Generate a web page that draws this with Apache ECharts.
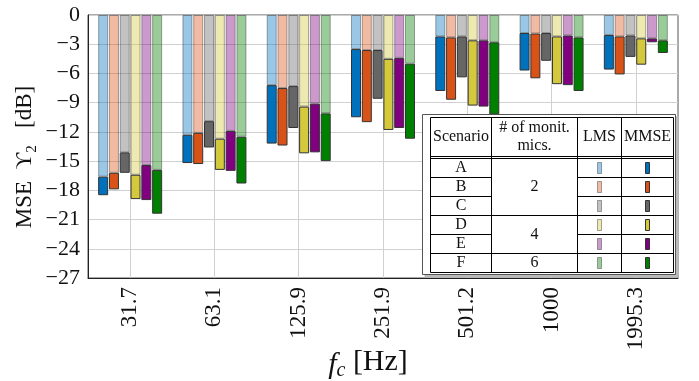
<!DOCTYPE html>
<html>
<head>
<meta charset="utf-8">
<script src="https://cdn.jsdelivr.net/npm/echarts@6/dist/echarts.min.js"></script>
<style>
  html, body { margin: 0; padding: 0; background: #fff; }
  #chart { width: 699px; height: 381px; }
</style>
</head>
<body>
<div id="chart"></div>
<script>
// centre frequencies (Hz)
const categories = ['31.7', '63.1', '125.9', '251.9', '501.2', '1000', '1995.3'];
const scenarios = ['A', 'B', 'C', 'D', 'E', 'F'];
const micCounts = ['2', '4', '6'];
const yTicks = [0, -3, -6, -9, -12, -15, -18, -21, -24, -27];

// MSE in dB, LMS and MMSE per scenario
const lmsA = [-16.6, -12.3, -7.2, -3.5, -2.2, -1.85, -2.05];
const mmseA = [-18.5, -15.2, -13.2, -10.5, -7.8, -5.7, -5.6];
const lmsB = [-16.2, -12.1, -7.5, -3.6, -2.3, -1.9, -2.2];
const mmseB = [-17.9, -15.3, -13.4, -11.0, -8.7, -6.5, -6.1];
const lmsC = [-14.1, -10.9, -7.3, -3.6, -2.2, -1.85, -2.1];
const mmseC = [-16.2, -13.6, -11.6, -8.6, -6.4, -4.7, -4.3];
const lmsD = [-16.4, -12.7, -9.4, -4.5, -2.6, -2.2, -2.4];
const mmseD = [-18.9, -15.9, -14.2, -11.8, -9.3, -7.1, -5.1];
const lmsE = [-15.4, -11.9, -9.1, -4.4, -2.6, -2.1, -2.4];
const mmseE = [-19.0, -16.0, -14.1, -11.6, -9.4, -7.2, -2.8];
const lmsF = [-15.9, -12.5, -10.1, -5.0, -2.8, -2.3, -2.6];
const mmseF = [-20.4, -17.3, -15.0, -12.7, -10.2, -7.8, -3.9];

const lmsAll = [lmsA, lmsB, lmsC, lmsD, lmsE, lmsF];
const mmseAll = [mmseA, mmseB, mmseC, mmseD, mmseE, mmseF];
const colors = ['#0072bd', '#d95319', '#666666', '#d4c83c', '#800080', '#008000'];

const FONT = '"Liberation Serif", "DejaVu Serif", serif';
const chart = echarts.init(document.getElementById('chart'));

const series = [];
scenarios.forEach((s, i) => {
  // light part: 0 -> LMS
  series.push({
    name: s + ' LMS', type: 'bar', stack: s,
    barWidth: 10, barGap: '8%',
    data: lmsAll[i],
    itemStyle: { color: colors[i], opacity: 0.4, borderColor: '#222', borderWidth: 1 },
  });
  // dark part: LMS -> MMSE
  series.push({
    name: s + ' MMSE', type: 'bar', stack: s,
    barWidth: 10, barGap: '8%',
    data: mmseAll[i].map((v, k) => v - lmsAll[i][k]),
    itemStyle: { color: colors[i], borderColor: '#333', borderWidth: 1 },
  });
});

// legend table (drawn by hand, like the LaTeX table in the original)
const L = 430.5, R = 673.5, T = 117.5;
const colX = [L, 491.5, 577.5, 621.5, R];
const rowY = [158.5, 177.5, 196.5, 215.5, 234.5, 253.5, 272.5];
const g = [];
const line = (x1, y1, x2, y2, w) => g.push({
  type: 'line', z: 101, silent: true,
  shape: { x1, y1, x2, y2 }, style: { stroke: '#000', lineWidth: w || 1 },
});
const text = (t, x, y, size) => g.push({
  type: 'text', z: 102, silent: true,
  style: { text: t, x, y, align: 'center', verticalAlign: 'middle', font: (size || 15) + 'px ' + FONT, fill: '#111' },
});
// frame + shadow
g.push({ type: 'rect', z: 99, silent: true, shape: { x: 424.5, y: 116.5, width: 254, height: 161 }, style: { fill: '#bbb' } });
g.push({ type: 'rect', z: 100, silent: true, shape: { x: 422.5, y: 114.5, width: 253, height: 160 }, style: { fill: '#fff', stroke: '#555', lineWidth: 1 } });
// outer table lines
line(L, T, R, T);
line(L, 156.5, R, 156.5);
line(L, 158.5, R, 158.5);
line(L, rowY[6], R, rowY[6]);
colX.forEach(x => line(x, T, x, rowY[6]));
// row lines (column 2 merged cells)
rowY.slice(1, 6).forEach((y, k) => {
  line(colX[0], y, colX[1], y);
  line(colX[2], y, colX[4], y);
  if (k === 2 || k === 4) line(colX[1], y, colX[2], y);
});
text('Scenario', (colX[0] + colX[1]) / 2, 137, 16);
text('# of monit.', (colX[1] + colX[2]) / 2, 128, 16);
text('mics.', (colX[1] + colX[2]) / 2, 146, 16);
text('LMS', (colX[2] + colX[3]) / 2, 137, 16);
text('MMSE', (colX[3] + colX[4]) / 2, 137, 16);
scenarios.forEach((s, i) => {
  const yc = (rowY[i] + rowY[i + 1]) / 2;
  text(s, (colX[0] + colX[1]) / 2, yc, 16);
  g.push({ type: 'rect', z: 102, silent: true, shape: { x: (colX[2] + colX[3]) / 2 - 2, y: yc - 5.5, width: 4, height: 11 },
    style: { fill: colors[i], opacity: 0.4, stroke: '#222', lineWidth: 1 } });
  g.push({ type: 'rect', z: 102, silent: true, shape: { x: (colX[3] + colX[4]) / 2 - 2, y: yc - 5.5, width: 4, height: 11 },
    style: { fill: colors[i], stroke: '#333', lineWidth: 1 } });
});
text(micCounts[0], (colX[1] + colX[2]) / 2, (rowY[0] + rowY[3]) / 2, 16);
text(micCounts[1], (colX[1] + colX[2]) / 2, (rowY[3] + rowY[5]) / 2, 16);
text(micCounts[2], (colX[1] + colX[2]) / 2, (rowY[5] + rowY[6]) / 2, 16);

// x axis title f_c [Hz]
g.push({
  type: 'text', z: 102, silent: true,
  style: {
    x: 368, y: 362, align: 'center', verticalAlign: 'middle',
    text: '{it|f}{sub|c} [Hz]',
    font: '30px ' + FONT, fill: '#111',
    rich: {
      it: { fontStyle: 'italic', fontSize: 30, fontFamily: FONT, lineHeight: 37, verticalAlign: 'bottom' },
      sub: { fontStyle: 'italic', fontSize: 20, fontFamily: FONT, lineHeight: 20, verticalAlign: 'bottom' },
    },
  },
});
// y axis title MSE Y_2 [dB]
g.push({
  type: 'text', z: 102, silent: true,
  x: 25, y: 157, rotation: Math.PI / 2,
  style: {
    x: 0, y: 0, align: 'center', verticalAlign: 'middle',
    text: 'MSE  \u03d2{sub|2}   [dB]',
    font: '23px ' + FONT, fill: '#111',
    rich: {
      sub: { fontSize: 15, fontFamily: FONT, lineHeight: 15, verticalAlign: 'bottom' },
    },
    lineHeight: 30,
  },
});

chart.setOption({
  animation: false,
  backgroundColor: '#fff',
  grid: {
    left: 88, right: 21, top: 15, bottom: 103, containLabel: false, outerBoundsMode: 'none',
    show: true, borderColor: '#555', borderWidth: 1,
  },
  xAxis: {
    type: 'category',
    data: categories,
    axisLine: { onZero: false, lineStyle: { color: '#222' } },
    axisTick: { alignWithLabel: true, inside: true, length: 4, lineStyle: { color: '#666' } },
    axisLabel: { rotate: 90, fontSize: 23, fontFamily: FONT, color: '#111', margin: 9 },
    splitLine: { show: true, alignWithLabel: true, interval: 0, lineStyle: { color: '#d0d0d0' } },
  },
  yAxis: {
    type: 'value',
    min: yTicks[yTicks.length - 1], max: yTicks[0], interval: 3,
    axisLine: { show: true, lineStyle: { color: '#222' } },
    axisTick: { show: false },
    axisLabel: {
      fontSize: 22, fontFamily: FONT, color: '#111', margin: 8,
      formatter: v => (v < 0 ? '\u2212' + (-v) : String(v)),
    },
    splitLine: { lineStyle: { color: '#d0d0d0' } },
  },
  series: series,
  graphic: g,
});
</script>
</body>
</html>
